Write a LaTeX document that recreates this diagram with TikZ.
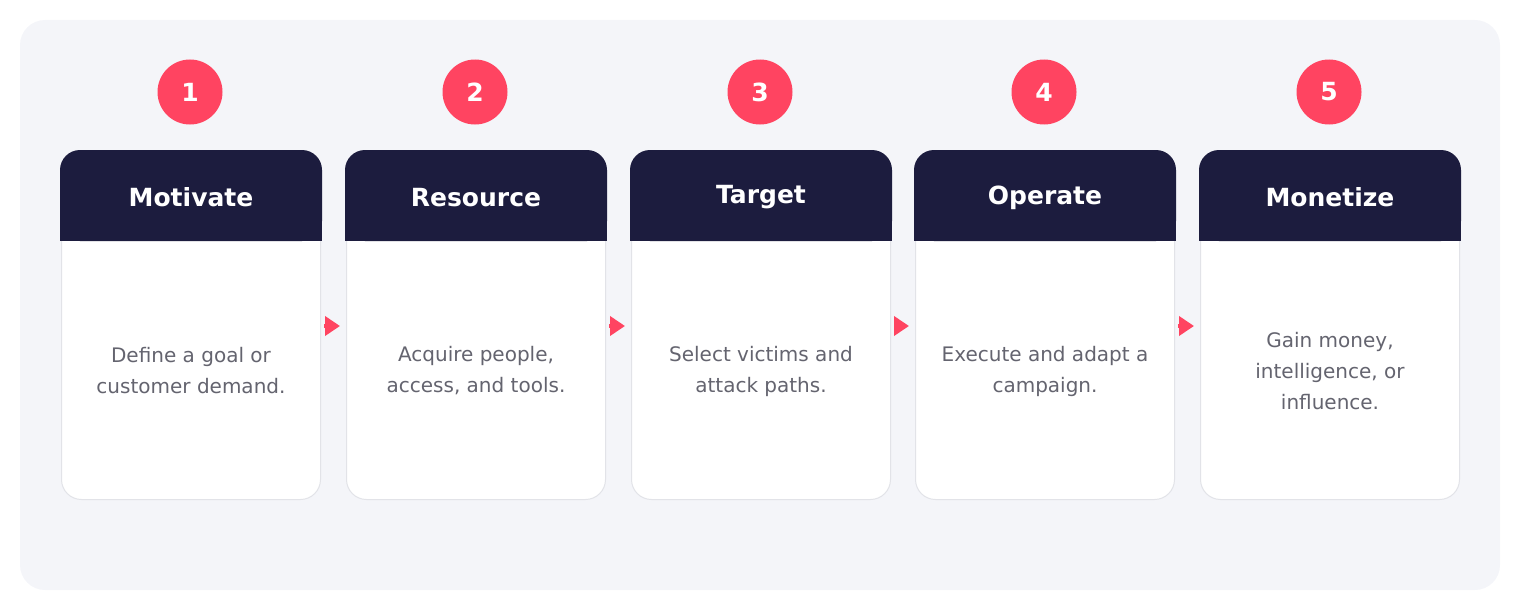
\documentclass[tikz,border=0pt]{standalone}
\usepackage{fontspec}
\setmainfont{DejaVu Sans}
\usetikzlibrary{arrows.meta}
\definecolor{bgc}{HTML}{F4F5F9}
\definecolor{navy}{HTML}{1C1C3E}
\definecolor{accent}{HTML}{FF4461}
\definecolor{bodytxt}{HTML}{64646F}
\definecolor{cardline}{HTML}{E2E3E8}
\tikzset{
  card/.style={rectangle, rounded corners=20pt, fill=white, draw=cardline, line width=1pt, minimum width=259pt, minimum height=290pt, inner sep=0pt},
  head/.style={rectangle, rounded corners=20pt, fill=navy, minimum width=262pt, minimum height=91pt, inner sep=0pt},
  headtxt/.style={inner sep=0pt, text=white, font=\bfseries\fontsize{25}{28}\selectfont},
  badge/.style={circle, fill=accent, minimum size=65pt, inner sep=0pt, text=white, font=\bfseries\fontsize{25}{28}\selectfont},
  desc/.style={align=center, text=bodytxt, font=\fontsize{20}{31}\selectfont, inner sep=0pt},
  flow/.style={draw=accent, line width=4pt, -{Triangle[length=15pt,width=19pt]}, shorten <=3pt, shorten >=6pt}
}
\begin{document}
\begin{tikzpicture}[x=1pt,y=-1pt]
\useasboundingbox (0,0) rectangle (1520,610);
\fill[bgc, rounded corners=25pt] (20,20) rectangle (1500,590);
\coordinate (ay) at (0,326);
\foreach \i/\x/\cx/\t/\d in {
  1/191/190/Motivate/{Define a goal or\\customer demand.},
  2/476/475/Resource/{Acquire people,\\access, and tools.},
  3/761/760/Target/{Select victims and\\attack paths.},
  4/1045/1044/Operate/{Execute and adapt a\\campaign.},
  5/1330/1329/Monetize/{Gain money,\\intelligence, or\\influence.}}{
  \node[card] (c\i) at (\x,354.5) {};
  \node[head] (h\i) at (\x,195.5) {};
  \fill[navy] ([yshift=22pt]h\i.south west) rectangle (h\i.south east);
  \node[headtxt] (l\i) at (\x,197.5) {\t};
  \node[desc] (t\i) at (\x,371) {\d};
  \node[badge] (n\i) at (\cx,92) {\i};
}
\foreach \a/\b in {1/2,2/3,3/4,4/5}{
  \draw[flow] (c\a.east |- ay) -- (c\b.west |- ay);
}
\end{tikzpicture}
\end{document}
